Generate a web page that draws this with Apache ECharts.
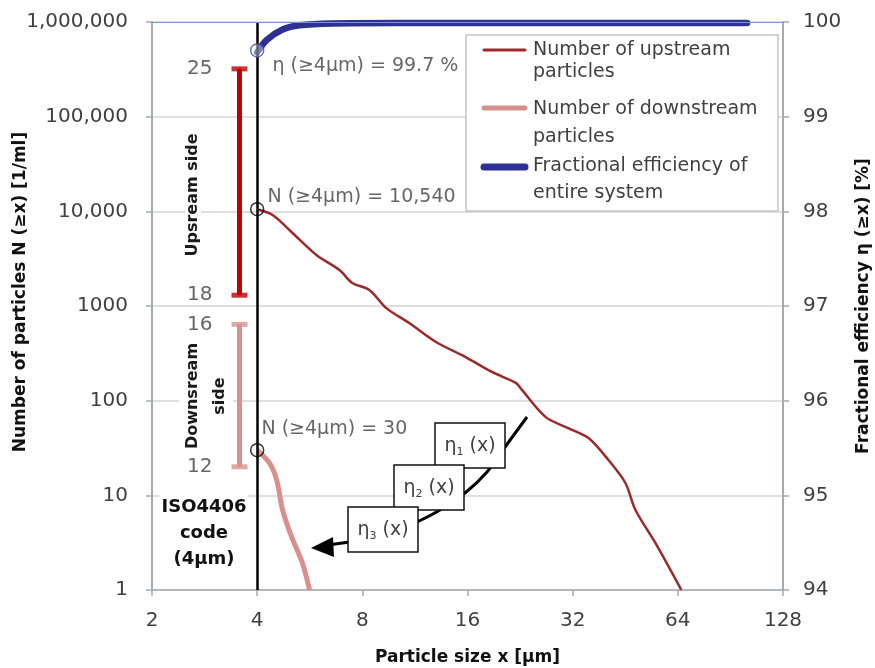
<!DOCTYPE html>
<html><head><meta charset="utf-8">
<script src="https://cdn.jsdelivr.net/npm/echarts@6/dist/echarts.min.js"></script>
<style>html,body{margin:0;padding:0;background:#fff}#c{width:875px;height:668px}</style>
</head><body><div id="c"></div>
<script>
// ---- data ----
const xTickValues = [2, 4, 8, 16, 32, 64, 128];
const upstream = [[4,10540],[4.43,9140],[5.05,5900],[5.91,3460],[6.88,2400],[7.49,1750],[8.38,1480],[9.37,950],[10.9,660],[13.0,417],[15.8,289],[18.8,201],[22.0,154],[22.9,130],[26.8,67],[31.2,51],[35.6,40],[40.5,23.6],[45.3,13.5],[48.4,7.0],[55.2,3.14],[65.5,1]];
const downstream = [[4,30],[4.34,21.9],[4.55,14.5],[4.73,7.0],[5.02,3.63],[5.39,1.93],[5.65,1]];
const efficiency = [[4,99.68],[4.26,99.81],[4.73,99.92],[5.29,99.965],[6.57,99.985],[10,99.99],[101,99.99]];
const refSize = 4;
const refUpstream = 10540;
const refDownstream = 30;
const refEfficiency = 99.7;
const isoX = 3.56;
const isoUpLimits = [320000, 1300];
const isoUpCodes = ['25', '18'];
const isoDownLimits = [640, 20];
const isoDownCodes = ['16', '12'];
const legendLines = [['Number of upstream','particles'],['Number of downstream','particles'],['Fractional efficiency of','entire system']];

// ---- style ----
const FONT = 'DejaVu Sans, sans-serif';
const GREY = '#404040';
const AX = '#a6a9b0';
const RED = '#9c2a2c', PINK = '#d8908f', BLUE = '#2e3192', ISORED = '#c00000';

const chart = echarts.init(document.getElementById('c'), null, {renderer: 'canvas'});
const titleStyle = {fontSize: 17, fontWeight: 'bold', color: '#111', fontFamily: FONT};
const fmtN = v => { const r = Math.round(v); return r >= 10000 ? r.toLocaleString('en-US') : String(r); };

const pointLabel = {show: true, position: 'right', distance: 5, fontSize: 19, color: GREY, fontFamily: FONT};

const option = {
  animation: false,
  textStyle: {fontFamily: FONT},
  grid: {left: 152, right: 92, top: 22, bottom: 78, containLabel: false, outerBoundsMode: 'none'},
  xAxis: {
    type: 'log', logBase: 2, min: xTickValues[0], max: xTickValues[xTickValues.length-1], interval: 1,
    name: 'Particle size x [µm]', nameLocation: 'middle', nameGap: 59, nameMoveOverlap: false, nameTextStyle: titleStyle,
    axisLine: {lineStyle: {color: AX, width: 1.5}},
    axisTick: {show: true, length: 6, lineStyle: {color: AX, width: 1.5}},
    axisLabel: {fontSize: 20, color: GREY, margin: 21, formatter: v => String(Math.round(v))},
    splitLine: {show: false}
  },
  yAxis: [{
    type: 'log', logBase: 10, min: 1, max: 1e6, interval: 1,
    name: 'Number of particles N (≥x) [1/ml]', nameLocation: 'middle', nameGap: 123, nameRotate: 90, nameMoveOverlap: false,
    nameTextStyle: Object.assign({}, titleStyle, {padding: [0, 0, 0, 28]}),
    axisLine: {show: true, lineStyle: {color: AX, width: 2}},
    axisTick: {show: true, length: 6, lineStyle: {color: AX, width: 1.5}},
    axisLabel: {fontSize: 20, color: GREY, margin: 24, formatter: fmtN},
    splitLine: {show: true, lineStyle: {color: '#d4d4d4', width: 1.5}}
  }, {
    type: 'value', min: 94, max: 100, interval: 1, position: 'right',
    name: 'Fractional efficiency η (≥x) [%]', nameLocation: 'middle', nameGap: 72, nameRotate: 90, nameMoveOverlap: false,
    nameTextStyle: titleStyle,
    axisLine: {show: true, lineStyle: {color: AX, width: 2}},
    axisTick: {show: true, length: 6, lineStyle: {color: AX, width: 1.5}},
    axisLabel: {fontSize: 20, color: GREY, margin: 20},
    splitLine: {show: false}
  }],
  series: [
    {
      type: 'line', name: 'up', data: upstream, yAxisIndex: 0, smooth: 0.3, symbol: 'none', z: 3,
      lineStyle: {color: RED, width: 2.5},
      markLine: {silent: true, symbol: ['none','none'], label: {show: false}, z: 4,
        lineStyle: {color: '#000', width: 2.5, type: 'solid'}, data: [{xAxis: refSize}]}
    },
    {
      type: 'line', name: 'down', data: downstream, yAxisIndex: 0, smooth: 0.3, symbol: 'none', z: 3,
      lineStyle: {color: PINK, width: 5}
    },
    {
      type: 'line', name: 'eff', data: efficiency, yAxisIndex: 1, smooth: 0.3, symbol: 'none', z: 3,
      lineStyle: {color: BLUE, width: 6.5, cap: 'round'},
      markLine: {silent: true, symbol: ['none','none'], label: {show: false},
        lineStyle: {color: '#6f9bd6', width: 1.2, type: 'solid'}, data: [{yAxis: 100}]}
    },
    {
      type: 'line', data: isoUpLimits.map(v => [isoX, v]), yAxisIndex: 0, symbol: 'none', z: 3,
      lineStyle: {color: ISORED, width: 5}
    },
    {
      type: 'line', data: isoDownLimits.map(v => [isoX, v]), yAxisIndex: 0, symbol: 'none', z: 3,
      lineStyle: {color: PINK, width: 5}
    },
    {
      type: 'scatter', yAxisIndex: 0, symbol: 'rect', symbolSize: [16, 5], z: 4,
      data: isoUpLimits.map((v, i) => ({value: [isoX, v], name: isoUpCodes[i], itemStyle: {color: ISORED}}))
        .concat(isoDownLimits.map((v, i) => ({value: [isoX, v], name: isoDownCodes[i], itemStyle: {color: PINK}}))),
      label: {show: true, position: 'left', distance: 19, fontSize: 20, color: GREY, formatter: p => p.name}
    },
    {
      type: 'scatter', yAxisIndex: 0, symbol: 'circle', symbolSize: 13, z: 6,
      itemStyle: {color: 'rgba(255,255,255,0)', borderColor: '#000', borderWidth: 1.5},
      label: pointLabel,
      data: [
        {value: [refSize, refUpstream], label: {offset: [-2, -12], formatter: 'N (≥4µm) = ' + refUpstream.toLocaleString('en-US')}},
        {value: [refSize, refDownstream], label: {offset: [-8, -21], formatter: 'N (≥4µm) = ' + refDownstream}}
      ]
    },
    {
      type: 'scatter', yAxisIndex: 1, symbol: 'circle', symbolSize: 13, z: 6,
      itemStyle: {color: 'rgba(255,255,255,0.5)', borderColor: '#4848b0', borderWidth: 1.5},
      label: pointLabel,
      data: [{value: [refSize, refEfficiency], label: {offset: [3, 16], formatter: 'η (≥4µm) = ' + refEfficiency + ' %'}}]
    }
  ],
  graphic: []
};

// legend box
const G = option.graphic;
G.push({type: 'rect', z: 50, shape: {x: 466, y: 35, width: 312, height: 176}, style: {fill: '#fff', stroke: '#c4c4c4', lineWidth: 1.5}});
const legendColors = [RED, PINK, BLUE], legendWidths = [3, 5, 7], legendIconY = [50, 108, 167];
const legendTextY = [[50, 72], [109, 137], [166, 193]];
legendLines.forEach((lines, i) => {
  G.push({type: 'line', z: 51, shape: {x1: 484, y1: legendIconY[i], x2: 525, y2: legendIconY[i]},
    style: {stroke: legendColors[i], lineWidth: legendWidths[i], lineCap: 'round'}});
  lines.forEach((t, j) => G.push({type: 'text', z: 51, x: 533, y: legendTextY[i][j],
    style: {text: t, fontSize: 19, fontFamily: FONT, fill: GREY, align: 'left', verticalAlign: 'middle'}}));
});

// side annotations
G.push({type: 'text', z: 20, x: 193, y: 195, rotation: Math.PI/2,
  style: {text: 'Upsream side', fontSize: 16, fontWeight: 'bold', fontFamily: FONT, fill: '#1a1a1a', align: 'center', verticalAlign: 'middle', backgroundColor: '#fff', padding: [0, 3]}});
G.push({type: 'text', z: 20, x: 206, y: 396, rotation: Math.PI/2,
  style: {text: 'Downsream\nside', fontSize: 16, lineHeight: 27, fontWeight: 'bold', fontFamily: FONT, fill: '#1a1a1a', align: 'center', verticalAlign: 'middle', backgroundColor: '#fff', padding: [0, 3]}});
G.push({type: 'text', z: 20, x: 204, y: 533,
  style: {text: 'ISO4406\ncode\n(4µm)', fontSize: 18, lineHeight: 26, fontWeight: 'bold', fontFamily: FONT, fill: '#111', align: 'center', verticalAlign: 'middle', backgroundColor: '#fff', padding: [0, 2]}});

// arrow and eta boxes
G.push({type: 'polyline', z: 30, shape: {points: [[527,417],[505,447],[487,472],[465,493],[440,510],[417,522],[383,537],[350,542],[328,545]], smooth: 0.3},
  style: {stroke: '#000', lineWidth: 3, fill: null}});
G.push({type: 'polygon', z: 30, shape: {points: [[311, 548], [333, 537], [334, 557]]}, style: {fill: '#000'}});
const etaBoxes = [[435, 423, '1'], [394, 465, '2'], [348, 507, '3']];
etaBoxes.forEach((b, i) => {
  G.push({type: 'rect', z: 31 + i*2, shape: {x: b[0], y: b[1], width: 70, height: 45}, style: {fill: '#fff', stroke: '#111', lineWidth: 1.5}});
  G.push({type: 'text', z: 32 + i*2, x: b[0] + 35, y: b[1] + 23,
    style: {text: '{e|η}{s|' + b[2] + '}{e| (x)}', align: 'center', verticalAlign: 'middle', fill: GREY,
      rich: {e: {fontSize: 19, fontFamily: FONT, fill: GREY, lineHeight: 24}, s: {fontSize: 11, fontFamily: FONT, fill: GREY, lineHeight: 12, verticalAlign: 'bottom'}}}});
});

chart.setOption(option);
</script>
</body></html>
